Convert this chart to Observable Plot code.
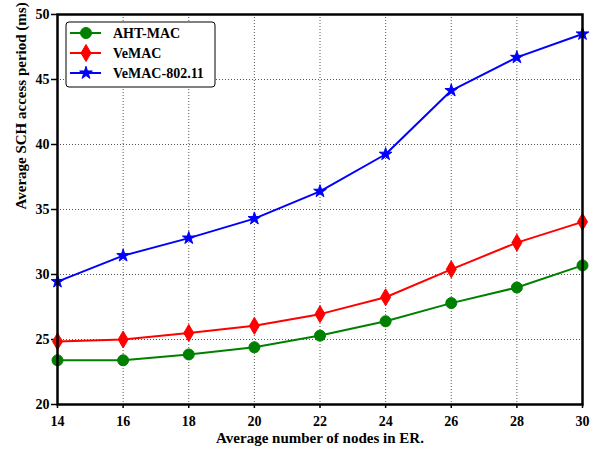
<!DOCTYPE html>
<html>
<head>
<meta charset="utf-8">
<script src="https://cdn.jsdelivr.net/npm/d3@7"></script>
<script src="https://cdn.jsdelivr.net/npm/@observablehq/plot@0.6"></script>
<style>
  html, body { margin: 0; padding: 0; background: #fff; }
  #wrap { position: relative; width: 595px; height: 449px; }
  #wrap svg, #wrap svg text { font-family: "Liberation Serif", "Times New Roman", serif !important; }
  #legend { position: absolute; left: 0; top: 0; }
</style>
</head>
<body>
<div id="wrap"></div>
<script>
// ---- data ----
const nodes = [14, 16, 18, 20, 22, 24, 26, 28, 30];
const ahtMac = [23.4, 23.4, 23.85, 24.4, 25.3, 26.4, 27.8, 29.0, 30.7];
const veMac = [24.85, 25.0, 25.5, 26.05, 26.95, 28.25, 30.4, 32.45, 34.05];
const veMac80211 = [29.45, 31.45, 32.8, 34.3, 36.4, 39.25, 44.15, 46.7, 48.5];
const seriesNames = ["AHT-MAC", "VeMAC", "VeMAC-802.11"];
const xTicks = [14, 16, 18, 20, 22, 24, 26, 28, 30];
const yTicks = [20, 25, 30, 35, 40, 45, 50];
const xLabel = "Average number of nodes in ER.";
const yLabel = "Average SCH access period (ms)";

// ---- styling ----
const colors = {"AHT-MAC": "#008000", "VeMAC": "#ff0000", "VeMAC-802.11": "#0000ff"};
const circleSym = {draw(ctx) { ctx.moveTo(5.5, 0); ctx.arc(0, 0, 5.5, 0, 2 * Math.PI); }};
const diamondSym = {draw(ctx) { ctx.moveTo(0, -8.5); ctx.lineTo(5, 0); ctx.lineTo(0, 8.5); ctx.lineTo(-5, 0); ctx.closePath(); }};
const starSym = {draw(ctx) { d3.symbolStar.draw(ctx, 50); }};
const symbols = {"AHT-MAC": circleSym, "VeMAC": diamondSym, "VeMAC-802.11": starSym};

const valuesBySeries = [ahtMac, veMac, veMac80211];
const rows = [];
seriesNames.forEach((s, i) => nodes.forEach((n, j) => rows.push({series: s, x: n, y: valuesBySeries[i][j]})));

const font = {fontSize: 14, fontWeight: "bold", fill: "black"};

const chart = Plot.plot({
  width: 595, height: 449,
  marginLeft: 57, marginRight: 13, marginTop: 14, marginBottom: 45,
  style: {fontFamily: "Liberation Serif, serif", background: "white"},
  x: {domain: [14, 30]},
  y: {domain: [20, 50]},
  marks: [
    Plot.gridX(xTicks, {stroke: "#555", strokeOpacity: 1, strokeDasharray: "1,2", strokeWidth: 1}),
    Plot.gridY(yTicks, {stroke: "#555", strokeOpacity: 1, strokeDasharray: "1,2", strokeWidth: 1}),
    Plot.axisX(xTicks, {tickSize: 4, tickPadding: 8, strokeWidth: 1.5, ...font, label: null, tickFormat: d => String(d)}),
    Plot.axisY(yTicks, {tickSize: 6, tickPadding: 2, strokeWidth: 1.5, ...font, label: null, tickFormat: d => String(d)}),
    ...seriesNames.map(s => Plot.line(rows.filter(r => r.series === s), {x: "x", y: "y", stroke: colors[s], strokeWidth: 2})),
    ...seriesNames.map(s => Plot.dot(rows.filter(r => r.series === s), {x: "x", y: "y", symbol: () => symbols[s], fill: colors[s], stroke: colors[s], strokeWidth: 1, r: 5})),
    Plot.frame({stroke: "black", strokeWidth: 2.5}),
    Plot.text([xLabel], {frameAnchor: "bottom", dy: 38, fontSize: 15, fontWeight: "bold", fill: "black"}),
    Plot.text([yLabel], {frameAnchor: "left", dx: -36, rotate: -90, fontSize: 15, fontWeight: "bold", fill: "black"})
  ]
});
document.getElementById("wrap").appendChild(chart);

// ---- legend overlay ----
const leg = d3.select("#wrap").append("svg").attr("id", "legend")
  .attr("width", 595).attr("height", 449)
  .style("pointer-events", "none");
leg.append("rect").attr("x", 66).attr("y", 22).attr("width", 149).attr("height", 65)
  .attr("rx", 3).attr("fill", "white").attr("stroke", "black").attr("stroke-width", 1);
seriesNames.forEach((s, i) => {
  const y = 33 + i * 20;
  leg.append("line").attr("x1", 70).attr("x2", 101).attr("y1", y).attr("y2", y)
    .attr("stroke", colors[s]).attr("stroke-width", 2);
  leg.append("path").attr("d", d3.symbol(symbols[s])()).attr("transform", `translate(86,${y})`)
    .attr("fill", colors[s]).attr("stroke", colors[s]).attr("stroke-width", 1);
  leg.append("text").attr("x", 113).attr("y", y).attr("dy", "0.35em")
    .attr("font-size", 14).attr("font-weight", "bold").attr("fill", "black")
    .text(s);
});
</script>
</body>
</html>
